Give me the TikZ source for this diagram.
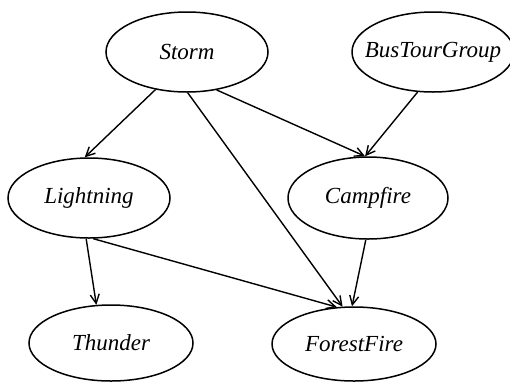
\documentclass[tikz,border=0pt]{standalone}
\usepackage{fontspec}
\setmainfont{Liberation Serif}
\usetikzlibrary{shapes.geometric,arrows.meta}
\begin{document}
\begin{tikzpicture}[x=1pt,y=-1pt,
  var/.style={draw,ellipse,line width=1.5pt,inner sep=0pt,
    minimum width=162pt,minimum height=80pt,
    font=\fontsize{23}{27}\selectfont\itshape},
  edge/.style={line width=1.4pt,-{Straight Barb[length=9pt,width=9pt,line width=1.4pt]}}]
\useasboundingbox (0,0) rectangle (510,381);
\node[var] (storm) at (187,52) {\makebox[0pt]{Storm}};
\node[var] (bus) at (433,52) {\makebox[0pt]{BusTourGroup}};
\node[var] (light) at (89,198) {\makebox[0pt]{Lightning}};
\node[var,minimum width=160pt,minimum height=82pt] (camp) at (368,198) {\makebox[0pt]{Campfire}};
\node[var,minimum width=164pt,minimum height=76pt] (thunder) at (111,343) {\makebox[0pt]{Thunder}};
\node[var,minimum width=164pt,minimum height=74pt] (forest) at (354,344) {\makebox[0pt]{ForestFire}};
\draw[edge] (storm.230) -- (light.96);
\draw[edge] (storm.271) -- (forest.107);
\draw[edge] (storm.308) -- (camp.94);
\draw[edge] (bus.249) -- (camp.94);
\draw[edge] (light.266) -- (thunder.111);
\draw[edge] (light.276) -- (forest.115);
\draw[edge] (camp.267) -- (forest.93);
\end{tikzpicture}
\end{document}
